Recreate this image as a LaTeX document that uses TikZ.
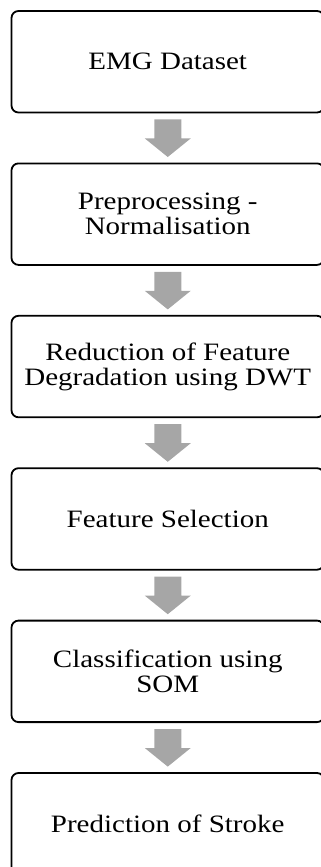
\documentclass[tikz,border=0pt]{standalone}
\usepackage{fontspec}
\setmainfont{Liberation Serif}[FakeStretch=1.16]
\usetikzlibrary{calc}
\definecolor{arrowgray}{RGB}{166,166,166}
\begin{document}
\begin{tikzpicture}[x=1pt,y=1pt,
  stepbox/.style={draw=black, line width=1.8pt, rounded corners=7pt,
    minimum width=312.5pt, minimum height=101.5pt, align=center,
    font=\fontsize{25}{25}\selectfont, inner sep=0pt},
  flowarrow/.style={fill=arrowgray, draw=none}]
\useasboundingbox (0,0) rectangle (321,-867);
\clip (0,0) rectangle (321,-867);
\node[stepbox] (b1) at (167.75,-61.75) {EMG Dataset};
\node[stepbox] (b2) at (167.75,-214.15) {Preprocessing -\\Normalisation};
\node[stepbox] (b3) at (167.75,-366.55) {Reduction of Feature\\Degradation using DWT};
\node[stepbox] (b4) at (167.75,-518.95) {Feature Selection};
\node[stepbox] (b5) at (167.75,-671.35) {Classification using\\SOM};
\node[stepbox] (b6) at (167.75,-823.75) {Prediction of Stroke};
\foreach \a/\b in {b1/b2,b2/b3,b3/b4,b4/b5,b5/b6}{
  \fill[flowarrow] ($(\a.south)+(-13.5,-6)$) -- ++(27,0) -- ++(0,-19) -- ++(9.5,0)
    -- ($(\b.north)+(0,5.5)$) -- ($(\a.south)+(-23,-25)$) -- ($(\a.south)+(-13.5,-25)$) -- cycle;
}
\end{tikzpicture}
\end{document}
